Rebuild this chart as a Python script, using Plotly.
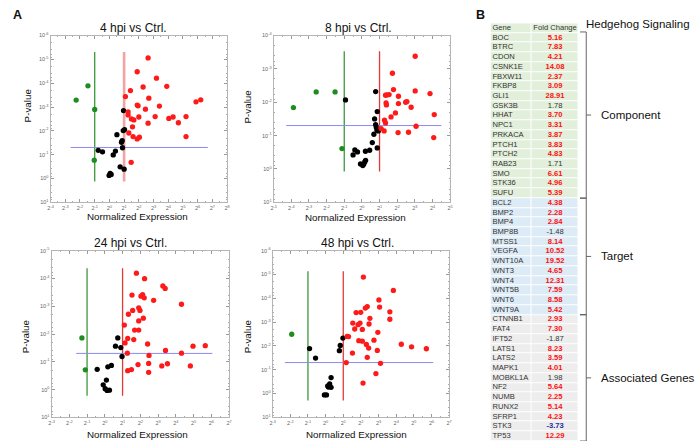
import numpy as np
import plotly.graph_objects as go

W, H = 700, 447
FONT = "Liberation Sans"

# ---------------- Panel data (log2 fold change, log10 P-value) ----------------
# 4 hpi
h4_down_log2fc = [-2.26, -1.46, -1.00, -1.03]
h4_down_log10p = [-3.29, -3.89, -2.90, -0.77]
h4_ns_log2fc = [0.96, 1.03, 0.94, 0.51, 0.87, 0.82, 0.89, -0.76, -0.47, 0.26, 0.41, 0.05, 0.12, -0.02, 0.73, 1.00]
h4_ns_log10p = [-2.85, -2.05, -2.01, -1.84, -1.59, -1.52, -1.29, -1.18, -1.12, -0.99, -1.15, -0.21, -0.17, -0.13, -0.49, -0.39]
h4_up_log2fc = [2.63, 1.89, 3.20, 2.29, 3.90, 1.43, 1.09, 2.68, 1.89, 1.95, 3.40, 2.45, 1.27, 1.27, 2.00, 1.50,
                1.66, 3.11, 4.04, 4.33, 4.69, 5.21, 5.89, 6.21, 2.63, 1.57, 1.32, 1.61, 2.04, 1.89, 5.21, 1.48]
h4_up_log10p = [-5.06, -4.48, -4.21, -3.84, -3.87, -3.69, -3.44, -3.37, -3.08, -3.05, -3.04, -2.91, -2.80, -2.67, -2.58, -2.50,
                -2.46, -2.60, -2.52, -2.58, -2.34, -2.60, -3.22, -3.30, -2.32, -2.17, -1.91, -1.76, -1.73, -1.66, -1.76, -0.68]
# 8 hpi
h8_down_log2fc = [-3.88, -2.59, -1.52, -1.13]
h8_down_log10p = [-1.84, -2.31, -2.31, -0.61]
h8_ns_log2fc = [0.78, -0.93, 0.87, 0.72, 0.78, 0.81, 0.85, 0.93, 0.68, 0.59, 0.87, -0.40, -0.25, -0.50, 0.20, 0.44,
                -0.08, 0.05, 0.16, 0.21, 0.10]
h8_ns_log10p = [-2.32, -2.07, -1.72, -1.50, -1.33, -1.26, -1.17, -1.14, -1.04, -0.79, -0.63, -0.57, -0.51, -0.42, -0.53, -0.56,
                -0.15, -0.10, -0.21, -0.26, -0.14]
h8_up_log2fc = [3.02, 1.73, 1.79, 3.02, 3.86, 1.34, 1.41, 1.54, 2.07, 2.48, 2.55, 1.37, 1.39, 2.07, 2.79, 4.10,
                1.90, 1.65, 1.28, 1.34, 3.07, 1.09, 1.26, 2.05, 2.64, 4.07]
h8_up_log10p = [-3.38, -2.87, -2.38, -2.34, -2.26, -2.21, -2.22, -2.23, -2.18, -2.00, -2.02, -1.98, -1.92, -1.96, -1.85, -1.63,
                -1.68, -1.56, -1.46, -1.38, -1.28, -1.21, -1.14, -1.09, -1.10, -0.94]
# 24 hpi
h24_down_log2fc = [-1.29, -1.10]
h24_down_log10p = [-1.86, -0.71]
h24_ns_log2fc = [0.73, 0.60, 0.90, 0.97, -0.43, 0.17, 0.37, 0.09, -0.09, 0.02, 0.13, 0.26]
h24_ns_log10p = [-1.86, -1.56, -1.51, -1.19, -0.73, -0.82, -0.87, -0.34, -0.17, -0.03, 0.03, 0.02]
h24_up_log2fc = [1.78, 2.24, 3.27, 3.40, 1.53, 2.04, 2.13, 2.22, 2.75, 4.32, 1.33, 1.57, 1.91, 1.98, 2.17, 1.91,
                 1.10, 1.68, 1.91, 1.63, 1.29, 1.14, 2.41, 1.27, 3.42, 2.49, 4.32, 4.97, 5.66, 1.87, 2.47, 3.53,
                 3.21, 4.82, 1.29, 1.50, 2.47]
h24_up_log10p = [-4.19, -3.99, -3.73, -3.64, -3.40, -3.36, -3.42, -3.30, -3.21, -3.07, -2.71, -2.85, -2.94, -2.85, -2.57, -2.47,
                 -2.32, -2.14, -2.14, -1.80, -1.84, -1.68, -1.64, -1.31, -1.41, -1.23, -1.31, -1.56, -1.58, -0.90, -0.94, -0.93,
                 -0.85, -0.85, -0.68, -0.72, -0.62]
# 48 hpi
h48_down_log2fc = [-1.92]
h48_down_log10p = [-2.49]
h48_ns_log2fc = [-0.91, -0.57, 0.98, 0.83, 0.78, 0.31, 0.23, 0.16, 0.31, 0.12, -0.07, 0.05]
h48_ns_log10p = [-1.89, -1.49, -2.33, -2.02, -1.80, -0.67, -0.40, -0.27, -0.26, -0.32, 0.06, 0.06]
h48_up_log2fc = [2.14, 3.84, 3.02, 3.06, 2.36, 2.25, 1.99, 1.73, 2.51, 3.64, 3.64, 1.54, 1.84, 1.95, 2.46, 2.08,
                 1.65, 1.22, 1.30, 2.96, 2.74, 1.88, 2.08, 2.31, 2.44, 4.29, 4.87, 5.71, 1.52, 2.93, 2.36, 1.17,
                 3.11, 2.85, 2.12]
h48_up_log10p = [-4.89, -4.33, -3.93, -3.63, -3.65, -3.59, -3.41, -3.40, -3.16, -3.43, -3.12, -2.96, -2.89, -2.96, -2.92, -2.69,
                 -2.71, -2.40, -2.39, -2.57, -2.24, -2.22, -2.20, -2.06, -1.91, -2.07, -1.96, -1.88, -1.70, -1.81, -1.52, -1.30,
                 -1.27, -0.84, -0.44]

panel_titles = ["4 hpi vs Ctrl.", "8 hpi vs Ctrl.", "24 hpi vs Ctrl.", "48 hpi vs Ctrl."]
panel_x_exp_range = [(-4, 8), (-5, 5), (-3, 7), (-3, 7)]      # log2 axis limits
panel_y_exp_range = [(-6, 1), (-4, 1), (-5, 1), (-6, 1)]      # log10 axis limits
# threshold guide lines: fold change 2^-1 / 2^1, P = 0.05
fc_threshold_log2 = 1.0
p_threshold = 0.05
vline_log10p_extent = [(-5.31, 0.13), (-3.53, 0.08), (-4.37, 0.22), (-5.13, 0.29)]
hline_log2fc_extent = [(-2.64, 6.69), (-4.29, 4.50), (-1.61, 6.06), (-2.31, 6.10)]

panels = [
    (h4_down_log2fc, h4_down_log10p, h4_ns_log2fc, h4_ns_log10p, h4_up_log2fc, h4_up_log10p),
    (h8_down_log2fc, h8_down_log10p, h8_ns_log2fc, h8_ns_log10p, h8_up_log2fc, h8_up_log10p),
    (h24_down_log2fc, h24_down_log10p, h24_ns_log2fc, h24_ns_log10p, h24_up_log2fc, h24_up_log10p),
    (h48_down_log2fc, h48_down_log10p, h48_ns_log2fc, h48_ns_log10p, h48_up_log2fc, h48_up_log10p),
]

# ---------------- Table data ----------------
table_header = ["Gene", "Fold Change"]
component_genes = ["BOC", "BTRC", "CDON", "CSNK1E", "FBXW11", "FKBP8", "GLI1", "GSK3B", "HHAT", "NPC1",
                   "PRKACA", "PTCH1", "PTCH2", "RAB23", "SMO", "STK36", "SUFU"]
component_fc = [5.16, 7.83, 4.21, 14.08, 2.37, 3.09, 28.91, 1.78, 3.70, 3.31, 3.87, 3.83, 4.83, 1.71, 6.61, 4.96, 5.39]
target_genes = ["BCL2", "BMP2", "BMP4", "BMP8B", "MTSS1", "VEGFA", "WNT10A", "WNT3", "WNT4", "WNT5B", "WNT6", "WNT9A"]
target_fc = [4.38, 2.28, 2.84, -1.48, 8.14, 10.52, 19.52, 4.65, 12.31, 7.59, 8.58, 5.42]
assoc_genes = ["CTNNB1", "FAT4", "IFT52", "LATS1", "LATS2", "MAPK1", "MOBKL1A", "NF2", "NUMB", "RUNX2",
               "SFRP1", "STK3", "TP53"]
assoc_fc = [2.93, 7.30, -1.87, 8.23, 3.59, 4.01, 1.98, 5.64, 2.25, 5.14, 4.23, -3.73, 12.29]
group_labels = ["Component", "Target", "Associated Genes"]
group_fill = ["#e2efda", "#ddebf7", "#ededed"]

# ---------------- Layout geometry (pixels) ----------------
def px(x):
    return x / W

def py(y):
    return 1 - y / H

panel_boxes = [(48, 226, 33, 202), (273, 451, 33, 202), (49, 228, 251, 420), (272, 450, 251, 420)]
title_pos = [(132, 25), (359, 25), (129, 243), (358, 243)]
xlabel_pos = [(136, 216), (356, 217), (136, 437), (357, 437)]
ylabel_pos = [(25, 104), (247, 105), (23, 338), (247, 338)]

fig = go.Figure()
layout = dict(width=W, height=H, margin=dict(l=0, r=0, t=0, b=0),
              paper_bgcolor="white", plot_bgcolor="white", showlegend=False,
              font=dict(family=FONT, color="#222"))
annotations = []
shapes = []

GREEN = "#1e8c1e"
RED = "#ff1a1a"
for i, (dx, dy, nx, ny, ux, uy) in enumerate(panels):
    xa = "x" if i == 0 else f"x{i+1}"
    ya = "y" if i == 0 else f"y{i+1}"
    # threshold lines
    v0, v1 = vline_log10p_extent[i]
    red_line = dict(color="#f4a3a3", width=2.6) if i == 0 else dict(color="#e23a36", width=1.3)
    fig.add_trace(go.Scatter(x=[2.0 ** -fc_threshold_log2] * 2, y=[10.0 ** v0, 10.0 ** v1], mode="lines",
                             line=dict(color="#3a9a3a", width=1.3), xaxis=xa, yaxis=ya, hoverinfo="skip"))
    fig.add_trace(go.Scatter(x=[2.0 ** fc_threshold_log2] * 2, y=[10.0 ** v0, 10.0 ** v1], mode="lines",
                             line=red_line, xaxis=xa, yaxis=ya, hoverinfo="skip"))
    h0, h1 = hline_log2fc_extent[i]
    fig.add_trace(go.Scatter(x=[2.0 ** h0, 2.0 ** h1], y=[p_threshold] * 2, mode="lines",
                             line=dict(color="#8a8af0", width=1), xaxis=xa, yaxis=ya, hoverinfo="skip"))
    for xs, ys, col in [(nx, ny, "black"), (dx, dy, GREEN), (ux, uy, RED)]:
        fig.add_trace(go.Scatter(x=[2.0 ** v for v in xs], y=[10.0 ** v for v in ys], mode="markers",
                                 marker=dict(color=col, size=5.3, line=dict(width=0)),
                                 xaxis=xa, yaxis=ya, hoverinfo="skip"))

    xl, xr, yt, yb = panel_boxes[i]
    xlo, xhi = panel_x_exp_range[i]
    ylo, yhi = panel_y_exp_range[i]
    axcommon = dict(showgrid=False, zeroline=False, showline=True, mirror="ticks", linecolor="#b5b5b5",
                    linewidth=1, ticks="inside", ticklen=3, tickcolor="#999", tickwidth=0.8,
                    tickfont=dict(size=5.5, color="#666", family=FONT))
    layout["xaxis" if i == 0 else f"xaxis{i+1}"] = dict(
        axcommon, type="log", domain=[px(xl), px(xr)], anchor=ya,
        range=[xlo * np.log10(2), xhi * np.log10(2)],
        tickmode="array", tickvals=[2.0 ** k for k in range(xlo, xhi + 1)],
        ticktext=[f"2<sup>{k}</sup>" for k in range(xlo, xhi + 1)],
        minor=dict(tickmode="array", tickvals=[2.0 ** (k + 0.5) for k in range(xlo, xhi)],
                   ticks="inside", ticklen=1.5, tickcolor="#aaa"))
    layout["yaxis" if i == 0 else f"yaxis{i+1}"] = dict(
        axcommon, type="log", domain=[py(yb), py(yt)], anchor=xa,
        range=[yhi, ylo],
        tickmode="array", tickvals=[10.0 ** k for k in range(ylo, yhi + 1)],
        ticktext=[f"10<sup>{k}</sup>" for k in range(ylo, yhi + 1)],
        minor=dict(tickmode="array", tickvals=[m * 10.0 ** k for k in range(ylo, yhi) for m in (2, 4, 6, 8)],
                   ticks="inside", ticklen=1.5, tickcolor="#aaa"))

    tx, ty = title_pos[i]
    annotations.append(dict(text=panel_titles[i], x=px(tx), y=py(ty), xref="paper", yref="paper",
                            showarrow=False, xanchor="center", yanchor="middle",
                            font=dict(size=12, color="#111", family=FONT)))
    lx, ly = xlabel_pos[i]
    annotations.append(dict(text="Normalized Expression", x=px(lx), y=py(ly), xref="paper", yref="paper",
                            showarrow=False, xanchor="center", yanchor="middle",
                            font=dict(size=9.8, color="#111", family=FONT)))
    vx, vy = ylabel_pos[i]
    annotations.append(dict(text="P-value", x=px(vx), y=py(vy), xref="paper", yref="paper", textangle=-90,
                            showarrow=False, xanchor="center", yanchor="middle",
                            font=dict(size=9.8, color="#111", family=FONT)))

annotations.append(dict(text="<b>A</b>", x=px(15), y=py(12), xref="paper", yref="paper", showarrow=False,
                        xanchor="center", yanchor="middle", font=dict(size=12.5, color="#111", family=FONT)))
annotations.append(dict(text="<b>B</b>", x=px(482), y=py(12), xref="paper", yref="paper", showarrow=False,
                        xanchor="center", yanchor="middle", font=dict(size=12.5, color="#111", family=FONT)))

# ---------------- Table (heatmap cells + text on its own axes) ----------------
TL, TT, TB = 491.7, 20.5, 444.0          # pixel box of the table
COL_W = [41.3, 47.7]                       # column widths in px (table axis units = px)
AX_W = 110.0                               # table axis spans extra room for the brackets
genes = component_genes + target_genes + assoc_genes
fcs = component_fc + target_fc + assoc_fc
group_sizes = [len(component_genes), len(target_genes), len(assoc_genes)]
row_group = [0] + sum([[g] * n for g, n in enumerate(group_sizes)], [])
n_rows = len(row_group)

fig.add_trace(go.Heatmap(
    z=[[g, g] for g in row_group], x=[0, COL_W[0], COL_W[0] + COL_W[1]], y=list(range(n_rows + 1)),
    colorscale=[[0, group_fill[0]], [0.5, group_fill[1]], [1, group_fill[2]]], zmin=0, zmax=2,
    showscale=False, xgap=1, ygap=1, xaxis="x5", yaxis="y5", hoverinfo="skip"))

def fc_style(v):
    if v >= 2:
        return f"<b>{v:.2f}</b>", "#ff1010"
    if v <= -2:
        return f"<b>{v:.2f}</b>", "#2a2aa0"
    return f"{v:.2f}", "#333"

fc_text = [table_header[1]] + [fc_style(v)[0] for v in fcs]
fc_color = ["#333"] + [fc_style(v)[1] for v in fcs]
gene_text = [table_header[0]] + genes
row_mid = [r + 0.5 for r in range(n_rows)]

fig.add_trace(go.Scatter(x=[2.0] * n_rows, y=row_mid, text=gene_text, mode="text", textposition="middle right",
                         textfont=dict(size=7.6, color="#333", family=FONT), xaxis="x5", yaxis="y5",
                         hoverinfo="skip", cliponaxis=False))
fig.add_trace(go.Scatter(x=[COL_W[0] + COL_W[1] / 2] * n_rows, y=row_mid, text=fc_text, mode="text",
                         textposition="middle center",
                         textfont=dict(size=7.6, color=fc_color, family=FONT), xaxis="x5", yaxis="y5",
                         hoverinfo="skip", cliponaxis=False))

layout["xaxis5"] = dict(domain=[px(TL), px(TL + AX_W)], range=[0, AX_W], anchor="y5", visible=False, fixedrange=True)
layout["yaxis5"] = dict(domain=[py(TB), py(TT)], range=[n_rows, 0], anchor="x5", visible=False, fixedrange=True)

# group brackets (in table axis units)
BX = 96.6
edges = [0.9]
acc = 1
for n in group_sizes:
    acc += n
    edges.append(acc)
for g in range(3):
    y0, y1 = edges[g], edges[g + 1]
    ym = (y0 + y1) / 2
    path = f"M 90.3,{y0} L {BX},{y0} L {BX},{y1} L 90.3,{y1} M {BX},{ym} L 101.5,{ym}"
    shapes.append(dict(type="path", path=path, xref="x5", yref="y5", line=dict(color="#555", width=0.9)))
    ym_px = TT + (TB - TT) * ym / n_rows
    annotations.append(dict(text=group_labels[g], x=px(601), y=py(ym_px), xref="paper", yref="paper",
                            showarrow=False, xanchor="left", yanchor="middle",
                            font=dict(size=11.5, color="#111", family=FONT)))
annotations.append(dict(text="Hedgehog Signaling", x=px(586), y=py(21.5), xref="paper", yref="paper",
                        showarrow=False, xanchor="left", yanchor="middle",
                        font=dict(size=11.5, color="#111", family=FONT)))

layout["annotations"] = annotations
layout["shapes"] = shapes
fig.update_layout(**layout)
fig.write_html("out.html", config={"displayModeBar": False},
               post_script="document.body.style.margin='0px';document.body.style.padding='0px';")
